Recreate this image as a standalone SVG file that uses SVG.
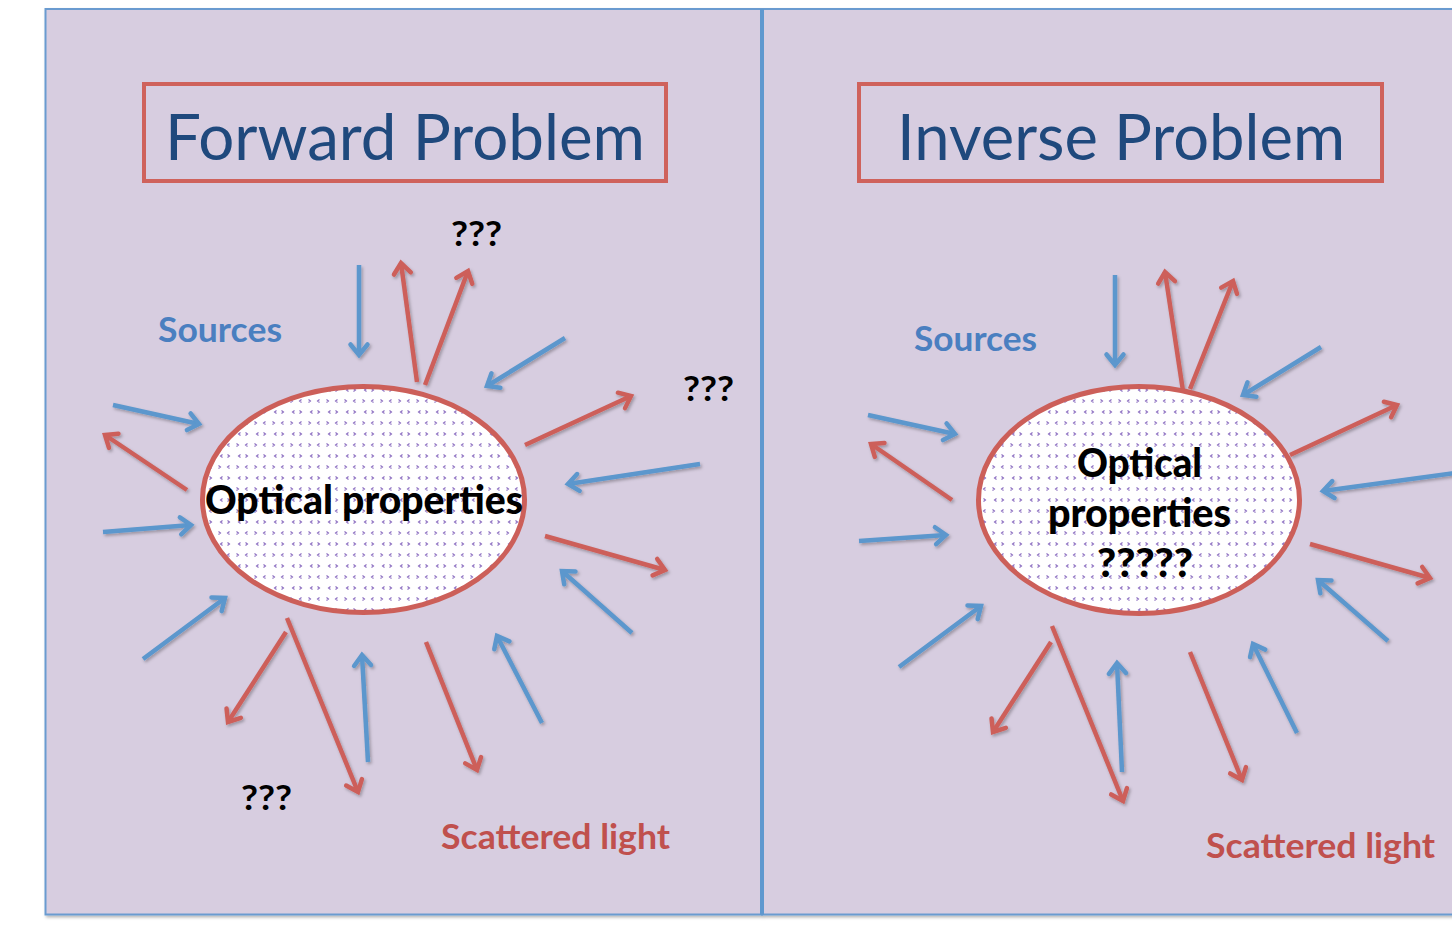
<svg xmlns="http://www.w3.org/2000/svg" width="1452" height="926" viewBox="0 0 1452 926">
<defs>
<style>
.panel{fill:#d7cde0;stroke:#6a9bd0;stroke-width:2}
.title-box{fill:none;stroke:#cf625c;stroke-width:4}
.title{font-family:Lato,"Liberation Sans",sans-serif;font-size:64px;fill:#1f497d}
.lbl{font-family:Lato,"Liberation Sans",sans-serif;font-weight:bold}
.src{font-size:35px;fill:#4a7fc0}
.sct{font-size:35px;fill:#c0504d}
.q{font-size:34px;fill:#000}
.opt{font-size:39px;fill:#000;font-weight:900}
.blob{fill:url(#dots);stroke:#cc5f59;stroke-width:5}
.b{stroke:#5b97cd;stroke-width:4.5;fill:none;marker-end:url(#hb)}
.r{stroke:#cd5f5a;stroke-width:4.5;fill:none;marker-end:url(#hr)}
</style>
<pattern id="dots" width="18" height="22" patternUnits="userSpaceOnUse">
<rect width="18" height="22" fill="#fff"/>
<path d="M2.5,3.5 L4.5,5 L2.5,6.5 M13.5,3.5 L11.5,5 L13.5,6.5 M6.5,14.5 L4.5,16 L6.5,17.5 M11.5,14.5 L13.5,16 L11.5,17.5" stroke="#8a6cc0" stroke-width="1.1" fill="none"/>
</pattern>
<marker id="hb" markerUnits="userSpaceOnUse" viewBox="-14 -12 18 24" refX="0" refY="0" markerWidth="18" markerHeight="24" orient="auto">
<path d="M-10.5,-8.5 L0,0 L-10.5,8.5" fill="none" stroke="#5b97cd" stroke-width="4.5" stroke-linecap="round"/>
</marker>
<marker id="hr" markerUnits="userSpaceOnUse" viewBox="-14 -12 18 24" refX="0" refY="0" markerWidth="18" markerHeight="24" orient="auto">
<path d="M-10.5,-8.5 L0,0 L-10.5,8.5" fill="none" stroke="#cd5f5a" stroke-width="4.5" stroke-linecap="round"/>
</marker>
<filter id="sh" x="-10%" y="-10%" width="120%" height="120%">
<feDropShadow dx="1.5" dy="2" stdDeviation="1.5" flood-color="#000" flood-opacity="0.28"/>
</filter>
</defs>

<g id="panels" filter="url(#sh)">
<rect id="panel-left" class="panel" x="45.5" y="9" width="716.5" height="905.5"/>
<rect id="panel-right" class="panel" x="762" y="9" width="720" height="905.5"/>
<line id="divider" x1="762" y1="9" x2="762" y2="915" stroke="#5f98cf" stroke-width="4"/>
</g>

<g id="title-forward">
<rect class="title-box" x="144" y="84" width="522" height="97"/>
<text class="title" x="165" y="160" textLength="480" lengthAdjust="spacingAndGlyphs">Forward Problem</text>
</g>
<g id="title-inverse">
<rect class="title-box" x="859" y="84" width="523" height="97"/>
<text class="title" x="897" y="160" textLength="448" lengthAdjust="spacingAndGlyphs">Inverse Problem</text>
</g>

<g id="connectors" filter="url(#sh)">
<line class="b" x1="113" y1="405" x2="199" y2="424"/>
<line class="b" x1="103" y1="532" x2="191" y2="525"/>
<line class="b" x1="143" y1="659" x2="225" y2="598"/>
<line class="b" x1="359" y1="265" x2="359" y2="355"/>
<line class="b" x1="565" y1="338" x2="487" y2="386"/>
<line class="b" x1="700" y1="464" x2="568" y2="484"/>
<line class="b" x1="632" y1="633" x2="562" y2="571"/>
<line class="b" x1="542" y1="723" x2="497" y2="636"/>
<line class="b" x1="368" y1="762" x2="362" y2="655"/>
<line class="r" x1="187" y1="490" x2="105" y2="435"/>
<line class="r" x1="417" y1="382" x2="401" y2="263"/>
<line class="r" x1="425" y1="385" x2="468" y2="271"/>
<line class="r" x1="525" y1="445" x2="631" y2="396"/>
<line class="r" x1="545" y1="536" x2="665" y2="570"/>
<line class="r" x1="426" y1="642" x2="477" y2="770"/>
<line class="r" x1="286" y1="632" x2="228" y2="722"/>
<line class="r" x1="287" y1="618" x2="358" y2="792"/>

<line class="b" x1="868" y1="415" x2="955" y2="434"/>
<line class="b" x1="859" y1="541" x2="946" y2="535"/>
<line class="b" x1="899" y1="667" x2="981" y2="606"/>
<line class="b" x1="1115" y1="275" x2="1115" y2="365"/>
<line class="b" x1="1321" y1="347" x2="1243" y2="395"/>
<line class="b" x1="1470" y1="471" x2="1323" y2="491"/>
<line class="b" x1="1388" y1="641" x2="1318" y2="580"/>
<line class="b" x1="1297" y1="733" x2="1253" y2="644"/>
<line class="b" x1="1122" y1="772" x2="1117" y2="663"/>
<line class="r" x1="952" y1="500" x2="871" y2="444"/>
<line class="r" x1="1183" y1="391" x2="1165" y2="272"/>
<line class="r" x1="1190" y1="389" x2="1233" y2="281"/>
<line class="r" x1="1290" y1="455" x2="1397" y2="405"/>
<line class="r" x1="1310" y1="544" x2="1430" y2="578"/>
<line class="r" x1="1190" y1="652" x2="1242" y2="780"/>
<line class="r" x1="1051" y1="642" x2="993" y2="732"/>
<line class="r" x1="1052" y1="626" x2="1123" y2="801"/>
</g>

<g id="medium-forward">
<ellipse class="blob" cx="363.5" cy="499.5" rx="161" ry="113"/>
<text class="lbl opt" x="205" y="514" textLength="318" lengthAdjust="spacingAndGlyphs">Optical properties</text>
</g>
<g id="medium-inverse">
<ellipse class="blob" cx="1139" cy="500" rx="160.5" ry="113.5"/>
<text class="lbl opt" x="1077" y="477" textLength="125" lengthAdjust="spacingAndGlyphs">Optical</text>
<text class="lbl opt" x="1048" y="527" textLength="183" lengthAdjust="spacingAndGlyphs">properties</text>
<text class="lbl opt" x="1097" y="577" textLength="96" lengthAdjust="spacingAndGlyphs">?????</text>
</g>

<g id="labels-forward">
<text class="lbl src" x="158" y="342" textLength="124" lengthAdjust="spacingAndGlyphs">Sources</text>
<text class="lbl sct" x="441" y="849" textLength="229" lengthAdjust="spacingAndGlyphs">Scattered light</text>
<text class="lbl q" x="451" y="246" textLength="51" lengthAdjust="spacingAndGlyphs">???</text>
<text class="lbl q" x="683" y="401" textLength="51" lengthAdjust="spacingAndGlyphs">???</text>
<text class="lbl q" x="241" y="810" textLength="51" lengthAdjust="spacingAndGlyphs">???</text>
</g>
<g id="labels-inverse">
<text class="lbl src" x="914" y="351" textLength="123" lengthAdjust="spacingAndGlyphs">Sources</text>
<text class="lbl sct" x="1206" y="858" textLength="229" lengthAdjust="spacingAndGlyphs">Scattered light</text>
</g>
</svg>
